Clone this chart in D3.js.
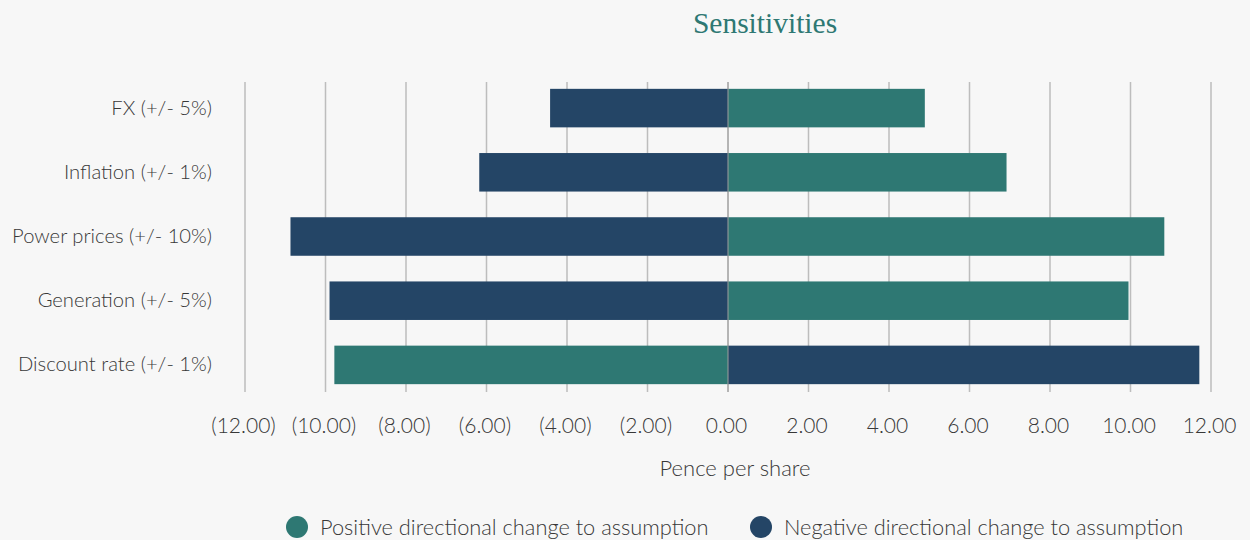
<!DOCTYPE html>
<html>
<head>
<meta charset="utf-8">
<script src="https://cdn.jsdelivr.net/npm/d3@7"></script>
<style>
  body { margin: 0; background: #f7f7f7; }
  #app svg { display: block; }
</style>
</head>
<body>
<div id="app"></div>
<script>
const categories = ["FX (+/- 5%)", "Inflation (+/- 1%)", "Power prices (+/- 10%)", "Generation (+/- 5%)", "Discount rate (+/- 1%)"];
// pence per share for each direction of change
const positiveValues = [4.89, 6.92, 10.84, 9.95, -9.78];
const negativeValues = [-4.42, -6.18, -10.87, -9.90, 11.71];
const xTicks = [-12, -10, -8, -6, -4, -2, 0, 2, 4, 6, 8, 10, 12];
const legendLabels = ["Positive directional change to assumption", "Negative directional change to assumption"];

const teal = "#2e7873";
const navy = "#244566";
const font = "Lato, 'Open Sans', sans-serif";
const textColor = "#383838";

const W = 1250, H = 540;

const svg = d3.select("#app")
    .append("svg")
    .attr("width", W)
    .attr("height", H)
    .style("background", "#f7f7f7");

svg.append("text")
    .attr("x", 765)
    .attr("y", 33)
    .attr("text-anchor", "middle")
    .attr("font-family", "'Liberation Serif', 'DejaVu Serif', serif")
    .attr("font-size", 29.5)
    .attr("fill", teal)
    .text("Sensitivities");

const x = d3.scaleLinear().domain([-12, 12]).range([245, 1211]);
const y = d3.scaleBand().domain(categories).range([76, 397])
    .paddingInner(0.4).paddingOuter(0.2);

// Vertical gridlines
svg.append("g")
    .selectAll("line")
    .data(xTicks)
    .join("line")
    .attr("x1", d => x(d))
    .attr("x2", d => x(d))
    .attr("y1", 82)
    .attr("y2", 392)
    .attr("stroke", "#bdbdbd")
    .attr("stroke-width", 1.5);

// Bars
const rows = categories.map((c, i) => ({ c, pos: positiveValues[i], neg: negativeValues[i] }));
const bars = svg.append("g");
for (const [key, color] of [["pos", teal], ["neg", navy]]) {
    bars.selectAll(`.bar-${key}`)
        .data(rows)
        .join("rect")
        .attr("class", `bar-${key}`)
        .attr("x", d => x(Math.min(0, d[key])))
        .attr("width", d => Math.abs(x(d[key]) - x(0)))
        .attr("y", d => y(d.c))
        .attr("height", y.bandwidth())
        .attr("fill", color);
}

// zero line over the bars
svg.append("line")
    .attr("x1", x(0)).attr("x2", x(0))
    .attr("y1", 82).attr("y2", 392)
    .attr("stroke", "#9e9e9e")
    .attr("stroke-width", 1);

// Axis labels
const fmt = d => d < 0 ? `(${d3.format(".2f")(-d)})` : d3.format(".2f")(d);
const xAxis = svg.append("g")
    .attr("transform", "translate(-2,426)")
    .call(d3.axisBottom(x).tickValues(xTicks).tickFormat(fmt).tickSize(0).tickPadding(0));
xAxis.select(".domain").remove();
xAxis.selectAll("text")
    .attr("dy", "0.35em")
    .attr("font-family", font)
    .attr("font-weight", 300)
    .attr("font-size", 21)
    .attr("fill", textColor);

const yAxis = svg.append("g")
    .attr("transform", "translate(212,0)")
    .call(d3.axisLeft(y).tickSize(0).tickPadding(0));
yAxis.select(".domain").remove();
yAxis.selectAll("text")
    .attr("font-family", font)
    .attr("font-weight", 300)
    .attr("font-size", 20.2)
    .attr("fill", textColor);

svg.append("text")
    .attr("x", 735)
    .attr("y", 476)
    .attr("text-anchor", "middle")
    .attr("font-family", font)
    .attr("font-weight", 300)
    .attr("font-size", 22)
    .attr("fill", textColor)
    .text("Pence per share");

// Legend
const legend = svg.append("g")
    .selectAll("g")
    .data(legendLabels)
    .join("g")
    .attr("transform", (d, i) => `translate(${[297, 761][i]},527)`);
legend.append("circle")
    .attr("r", 11)
    .attr("fill", (d, i) => [teal, navy][i]);
legend.append("text")
    .attr("x", 23)
    .attr("dy", "0.35em")
    .attr("font-family", font)
    .attr("font-weight", 300)
    .attr("font-size", 21.8)
    .attr("fill", textColor)
    .text(d => d);
</script>
</body>
</html>
